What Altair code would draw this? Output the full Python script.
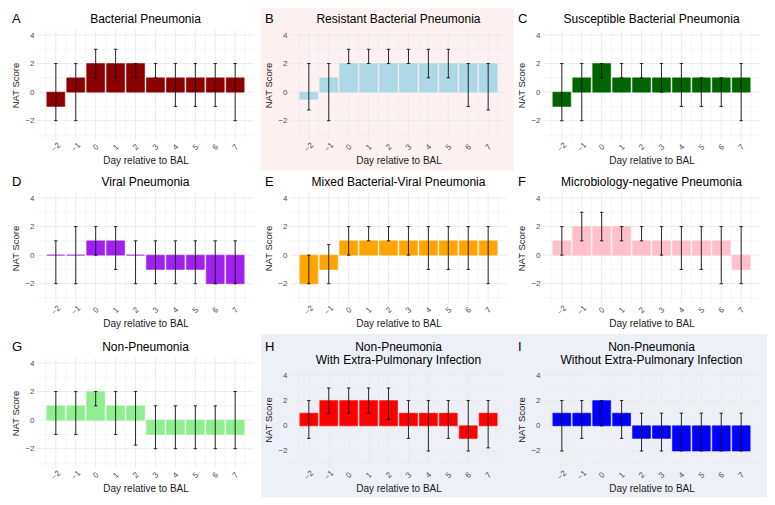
import altair as alt
import pandas as pd

# ---------------- data ----------------
days = [-2, -1, 0, 1, 2, 3, 4, 5, 6, 7]

letters = ["A", "B", "C", "D", "E", "F", "G", "H", "I"]
titles = [
    ["Bacterial Pneumonia"],
    ["Resistant Bacterial Pneumonia"],
    ["Susceptible Bacterial Pneumonia"],
    ["Viral Pneumonia"],
    ["Mixed Bacterial-Viral Pneumonia"],
    ["Microbiology-negative Pneumonia"],
    ["Non-Pneumonia"],
    ["Non-Pneumonia", "With Extra-Pulmonary Infection"],
    ["Non-Pneumonia", "Without Extra-Pulmonary Infection"],
]
bar_colors = ["#8B0000", "#ADD8E6", "#006400", "#A020F0", "#FFA500",
              "#FFC0CB", "#90EE90", "#FF0000", "#0000FF"]
panel_bg = ["#FFFFFF", "#FDF1F1", "#FFFFFF", "#FFFFFF", "#FFFFFF",
            "#FFFFFF", "#FFFFFF", "#EEF0F7", "#EEF0F7"]

scores = [
    [-1, 1, 2, 2, 2, 1, 1, 1, 1, 1],
    [-0.5, 1, 2, 2, 2, 2, 2, 2, 2, 2],
    [-1, 1, 2, 1, 1, 1, 1, 1, 1, 1],
    [0, 0, 1, 1, 0, -1, -1, -1, -2, -2],
    [-2, -1, 1, 1, 1, 1, 1, 1, 1, 1],
    [1, 2, 2, 2, 1, 1, 1, 1, 1, -1],
    [1, 1, 2, 1, 1, -1, -1, -1, -1, -1],
    [1, 2, 2, 2, 2, 1, 1, 1, -1, 1],
    [1, 1, 2, 1, -1, -1, -2, -2, -2, -2],
]
lower = [
    [-2, -2, 1, 1, 1, 1, -1, -1, -1, -2],
    [-1.25, -2, 2, 2, 2, 2, 1, 1, -1, -1.25],
    [-2, -2, 1, 1, 1, 0, -1, -1, -1, -2],
    [-2, -2, 0, -1, -2, -2, -2, -2, -2, -2],
    [-2, -2, 0, 1, 1, 0, -1, -1, -1, -2],
    [0, 1, 1, 1, 1, 0, -1, -1, -2, -2],
    [-1, -1, 1, -1, -1.75, -2, -2, -2, -2, -2],
    [-1, 1, 1, 1, 0.5, -1, -2, -1, -2, -1.75],
    [-2, -1, 0, -1, -2, -2, -2, -2, -2, -2],
]
upper = [
    [2, 2, 3, 3, 2, 2, 2, 2, 2, 2],
    [2, 2, 3, 3, 3, 3, 3, 3, 2, 2],
    [2, 2, 2, 2, 2, 2, 2, 1, 1, 2],
    [1, 2, 2, 2, 1, 1, 1, 1, 1, 1],
    [0, 0.75, 2, 2, 2, 2, 2, 2, 2, 2],
    [2, 3, 3, 2, 2, 2, 2, 2, 2, 2],
    [2, 2, 2, 2, 2, 1, 1, 1, 1, 2],
    [2, 3, 3, 3, 3, 2, 2, 2, 2, 2],
    [2, 2, 2, 2, 1, 1, 1, 1, 1, 1],
]

y_breaks = [-2, 0, 2, 4]
y_grid = [-3, -2, -1, 0, 1, 2, 3, 4]
x_grid = [-2.5, -2, -1.5, -1, -0.5, 0, 0.5, 1, 1.5, 2, 2.5, 3, 3.5,
          4, 4.5, 5, 5.5, 6, 6.5, 7, 7.5]

# ---------------- layout ----------------
PW = 217          # plot width
LEFT = 29         # room for y axis
RIGHT = 7
PANEL_H = 163
FONT = "Liberation Sans"

xs = alt.Scale(domain=[-2.945, 7.945], nice=False, zero=False)
Y_DOMAIN = [-3.35, 4.35]

x_axis = alt.Axis(values=days, grid=False, domain=False, ticks=False,
                  labelAngle=315, labelAlign="center", labelBaseline="middle",
                  labelPadding=7, labelFontSize=8, labelColor="#4D4D4D",
                  title="Day relative to BAL", titleFontSize=10,
                  titleFontWeight="normal", titleColor="#1A1A1A",
                  titlePadding=2, zindex=1, format="d")
y_axis = alt.Axis(values=y_breaks, grid=False, domain=False, ticks=False,
                  labelFontSize=8, labelColor="#4D4D4D", labelPadding=3,
                  title="NAT Score", titleFontSize=9.5,
                  titleFontWeight="normal", titleColor="#1A1A1A",
                  titlePadding=4, zindex=1, format="d")


def panel(i):
    row = i // 3
    two = len(titles[i]) > 1
    if row < 2:
        top, PH, rtop, title_y = 22, 110, 0, -7
    elif two:
        top, PH, rtop, title_y = 37, 97, 0, -20
    else:  # G: taller plot that starts higher than its neighbours
        top, PH, rtop, title_y = 37, 97, -13, -20
    bottom = PANEL_H - top - PH
    ys = alt.Scale(domain=Y_DOMAIN, nice=False, zero=False, range=[PH, rtop])

    df = pd.DataFrame({"day": days, "score": scores[i],
                       "lo": lower[i], "hi": upper[i]})
    one = pd.DataFrame({"k": [0]})
    ygdf = pd.DataFrame({"g": y_grid,
                         "w": [0.5 if v % 2 else 1.0 for v in y_grid]})
    xgdf = pd.DataFrame({"g": x_grid,
                         "w": [1.0 if float(v).is_integer() else 0.5 for v in x_grid]})

    bg = alt.Chart(one).mark_rect(fill=panel_bg[i], opacity=1).encode(
        x=alt.value(-LEFT), x2=alt.value(PW + RIGHT),
        y=alt.value(-top), y2=alt.value(PH + bottom))

    ygrid = alt.Chart(ygdf).mark_rule(color="#EBEBEB").encode(
        y=alt.Y("g:Q", scale=ys, axis=y_axis),
        strokeWidth=alt.StrokeWidth("w:Q", scale=None, legend=None))
    xgrid = alt.Chart(xgdf).mark_rule(color="#EBEBEB").encode(
        x=alt.X("g:Q", scale=xs, axis=x_axis),
        y=alt.value(rtop), y2=alt.value(PH),
        strokeWidth=alt.StrokeWidth("w:Q", scale=None, legend=None))

    base = alt.Chart(df).transform_calculate(
        b1="datum.day - 0.45", b2="datum.day + 0.45",
        c1="datum.day - 0.085", c2="datum.day + 0.085", zero="0")

    bars = base.mark_bar(color=bar_colors[i], stroke=bar_colors[i],
                         strokeWidth=0.6).encode(
        x=alt.X("b1:Q", scale=xs, axis=x_axis), x2="b2:Q",
        y=alt.Y("score:Q", scale=ys, axis=y_axis), y2="zero:Q")

    err = base.mark_rule(color="#111111", strokeWidth=0.9).encode(
        x=alt.X("day:Q", scale=xs, axis=x_axis),
        y=alt.Y("lo:Q", scale=ys, axis=y_axis), y2="hi:Q")
    cap_lo = base.mark_rule(color="#111111", strokeWidth=0.9).encode(
        x=alt.X("c1:Q", scale=xs, axis=x_axis), x2="c2:Q",
        y=alt.Y("lo:Q", scale=ys, axis=y_axis))
    cap_hi = base.mark_rule(color="#111111", strokeWidth=0.9).encode(
        x=alt.X("c1:Q", scale=xs, axis=x_axis), x2="c2:Q",
        y=alt.Y("hi:Q", scale=ys, axis=y_axis))

    ttl = alt.Chart(one).mark_text(
        text=titles[i] if two else titles[i][0], align="center",
        baseline="alphabetic", fontSize=12, font=FONT, color="#000000",
        lineHeight=12.5).encode(x=alt.value(PW / 2), y=alt.value(title_y))
    let = alt.Chart(one).mark_text(
        text=letters[i], align="left", baseline="alphabetic", fontSize=13,
        font=FONT, color="#000000").encode(
        x=alt.value(-LEFT + 4), y=alt.value(title_y))

    return alt.layer(bg, ygrid, xgrid, bars, err, cap_lo, cap_hi, ttl, let
                     ).properties(width=PW, height=PH)


rows = []
for r in range(3):
    rows.append(alt.hconcat(*[panel(3 * r + c) for c in range(3)], spacing=0))

chart = alt.vconcat(*rows, spacing=0).properties(padding=0).configure(
    font=FONT).configure_view(stroke=None).configure_concat(spacing=0)

chart.save("out.html", embed_options={"renderer": "svg", "actions": False})
